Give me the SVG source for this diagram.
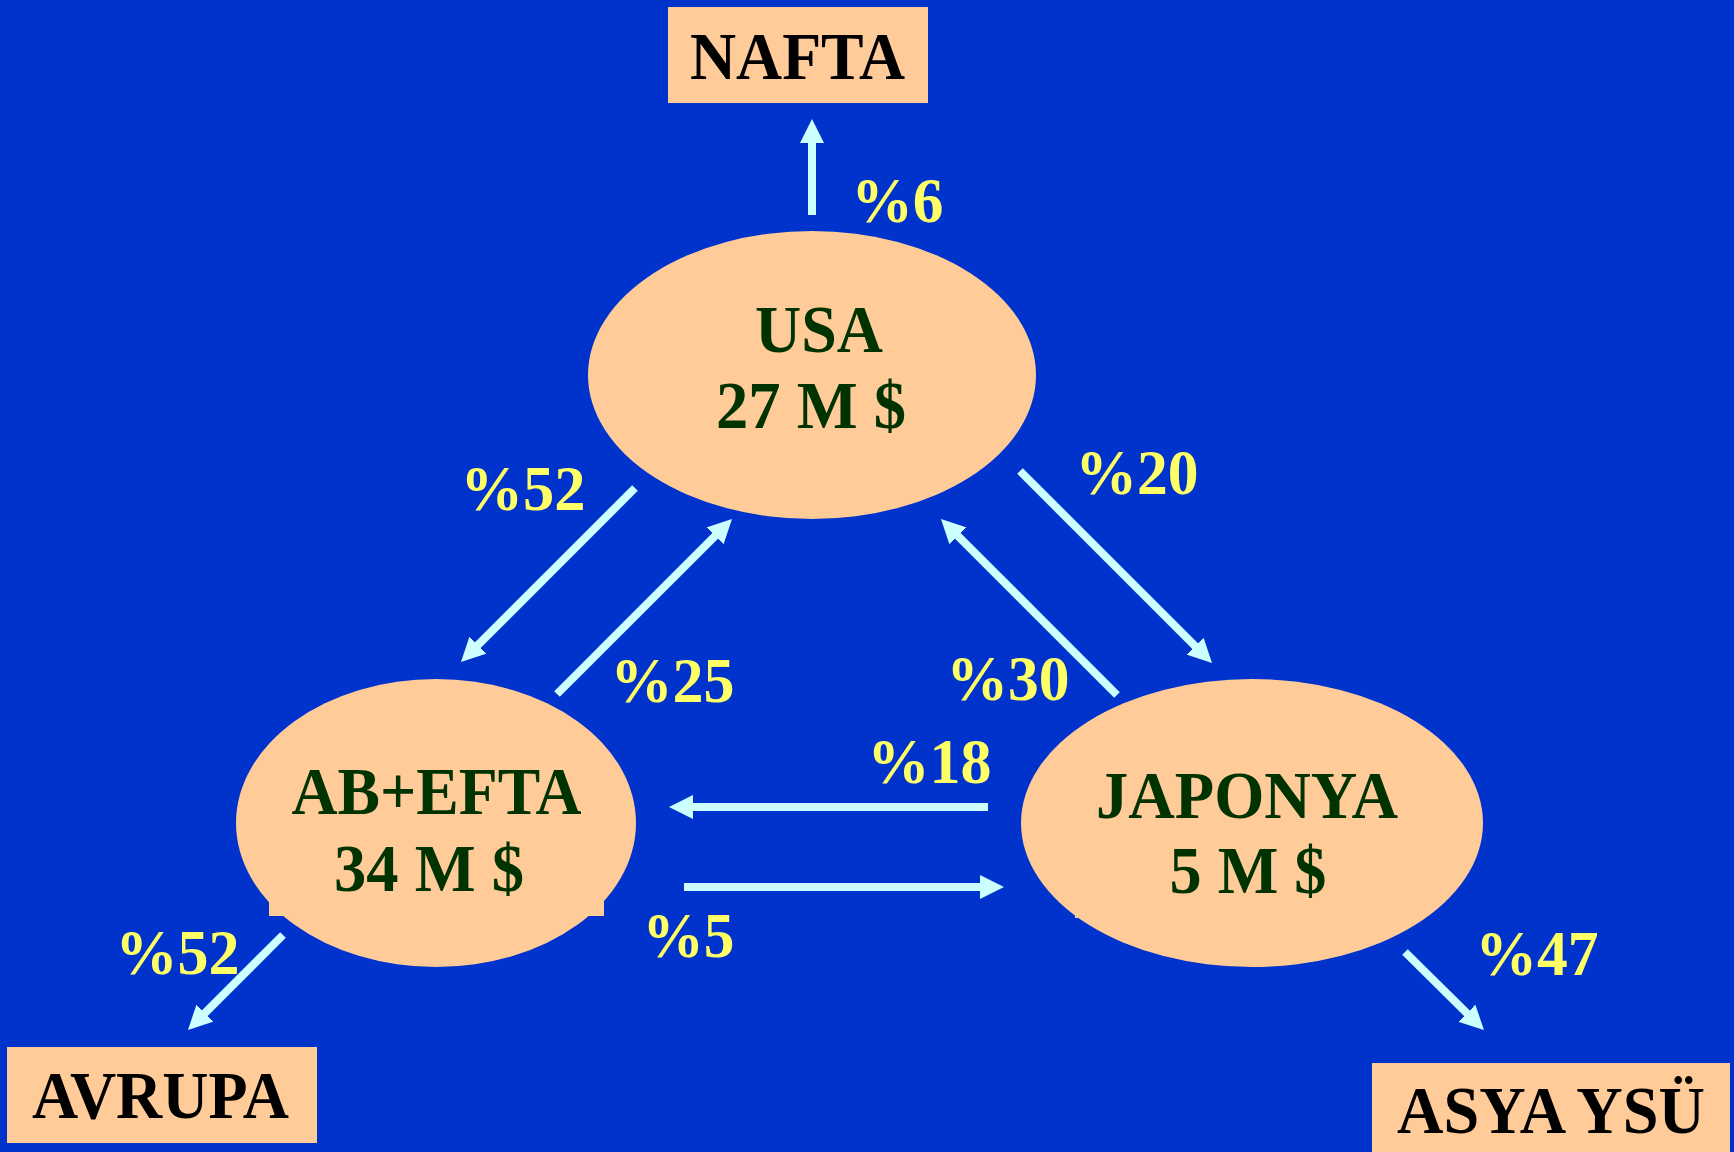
<svg xmlns="http://www.w3.org/2000/svg" width="1734" height="1152" viewBox="0 0 1734 1152">
<style>
.bg{fill:#0033CC}
.peach{fill:#FFCC99}
.box{font-family:"Liberation Serif","Times New Roman",serif;font-weight:bold;font-size:68px;fill:#000000;text-anchor:middle}
.node{font-family:"Liberation Serif","Times New Roman",serif;font-weight:bold;font-size:68px;fill:#003300;text-anchor:middle}
.lbl{font-family:"Liberation Serif","Times New Roman",serif;font-weight:bold;font-size:64px;fill:#FFFF66;text-anchor:middle}
.arr{stroke:#CCFFFF;stroke-width:8;fill:none;marker-end:url(#head)}
</style>
<defs>
<marker id="head" viewBox="0 0 24 24" refX="8" refY="12" markerWidth="24" markerHeight="24" markerUnits="userSpaceOnUse" orient="auto">
<path d="M0,0 L24,12 L0,24 Z" fill="#CCFFFF"/>
</marker>
</defs>
<rect class="bg" x="0" y="0" width="1734" height="1152"/>

<g id="nafta">
<rect class="peach" x="668" y="7" width="260" height="96"/>
<text class="box" x="797.5" y="79" textLength="215" lengthAdjust="spacingAndGlyphs">NAFTA</text>
</g>
<g id="avrupa">
<rect class="peach" x="7" y="1047" width="310" height="96"/>
<text class="box" x="160.5" y="1118" textLength="257" lengthAdjust="spacingAndGlyphs">AVRUPA</text>
</g>
<g id="asya">
<rect class="peach" x="1372" y="1063" width="358" height="89"/>
<text class="box" x="1551" y="1133" textLength="308" lengthAdjust="spacingAndGlyphs">ASYA YSÜ</text>
</g>

<g id="usa">
<ellipse class="peach" cx="812" cy="375" rx="224" ry="144"/>
<text class="node" x="819" y="352" textLength="128" lengthAdjust="spacingAndGlyphs">USA</text>
<text class="node" x="811" y="428" textLength="190" lengthAdjust="spacingAndGlyphs">27 M $</text>
</g>
<g id="abefta">
<rect class="peach" x="269" y="820" width="335" height="96"/>
<ellipse class="peach" cx="436" cy="823" rx="200" ry="144"/>
<text class="node" x="436.5" y="814" textLength="290" lengthAdjust="spacingAndGlyphs">AB+EFTA</text>
<text class="node" x="429" y="891" textLength="190" lengthAdjust="spacingAndGlyphs">34 M $</text>
</g>
<g id="japonya">
<rect class="peach" x="1075" y="820" width="300" height="98"/>
<ellipse class="peach" cx="1252" cy="823" rx="231" ry="144"/>
<text class="node" x="1247" y="818" textLength="302" lengthAdjust="spacingAndGlyphs">JAPONYA</text>
<text class="node" x="1248" y="893" textLength="157" lengthAdjust="spacingAndGlyphs">5 M $</text>
</g>

<g id="connectors">
<line class="arr" x1="812" y1="215" x2="812" y2="135"/>
<line class="arr" x1="635" y1="488" x2="472.3" y2="650.7"/>
<line class="arr" x1="557" y1="694" x2="720.7" y2="530.3"/>
<line class="arr" x1="1020" y1="471" x2="1200.7" y2="651.7"/>
<line class="arr" x1="1117" y1="695" x2="952.3" y2="530.3"/>
<line class="arr" x1="988" y1="807" x2="685" y2="807"/>
<line class="arr" x1="684" y1="887" x2="988" y2="887"/>
<line class="arr" x1="283" y1="935" x2="199.3" y2="1018.7"/>
<line class="arr" x1="1405" y1="952" x2="1472.6" y2="1018.8"/>
</g>

<g id="labels">
<text class="lbl" x="897.5" y="222" textLength="92" lengthAdjust="spacingAndGlyphs">%6</text>
<text class="lbl" x="523" y="510" textLength="125" lengthAdjust="spacingAndGlyphs">%52</text>
<text class="lbl" x="672.5" y="702" textLength="124" lengthAdjust="spacingAndGlyphs">%25</text>
<text class="lbl" x="1137" y="494" textLength="123" lengthAdjust="spacingAndGlyphs">%20</text>
<text class="lbl" x="1008" y="700" textLength="123" lengthAdjust="spacingAndGlyphs">%30</text>
<text class="lbl" x="929.5" y="783" textLength="124" lengthAdjust="spacingAndGlyphs">%18</text>
<text class="lbl" x="688.5" y="957" textLength="92" lengthAdjust="spacingAndGlyphs">%5</text>
<text class="lbl" x="177.5" y="974" textLength="124" lengthAdjust="spacingAndGlyphs">%52</text>
<text class="lbl" x="1537" y="975" textLength="123" lengthAdjust="spacingAndGlyphs">%47</text>
</g>
</svg>
